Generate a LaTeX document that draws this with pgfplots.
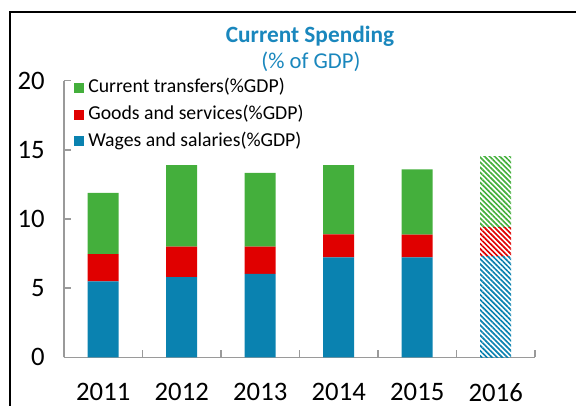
\documentclass[border=0pt]{standalone}
\usepackage{fontspec}
\setmainfont{Carlito}
\usepackage{pgfplots}
\usepackage{pgfplotstable}
\pgfplotsset{compat=1.18}
\usetikzlibrary{patterns.meta}
\definecolor{wagblue}{HTML}{0A82B0}
\definecolor{goodred}{HTML}{E00000}
\definecolor{transgreen}{HTML}{44AF3C}
\definecolor{titleblue}{HTML}{1A87BD}
\definecolor{axgray}{HTML}{9A9A9A}

% actuals 2011-2015 (2016 left at zero)
\pgfplotstableread{
x wag goo tra
0 5.50 1.96 4.44
1 5.80 2.20 5.90
2 6.04 1.96 5.33
3 7.22 1.68 5.00
4 7.22 1.66 4.72
5 0 0 0
}\actual
% projection 2016
\pgfplotstableread{
x wag goo tra
0 0 0 0
1 0 0 0
2 0 0 0
3 0 0 0
4 0 0 0
5 7.29 2.10 5.11
}\proj

\begin{document}
\begin{tikzpicture}
\path[use as bounding box] (0,0) rectangle (432pt,-303.75pt);
\draw[line width=1.5pt] (7.5pt,-310pt) -- (7.5pt,-9pt) -- (440pt,-9pt);
\node[anchor=base, font=\fontsize{17.5}{20}\selectfont\bfseries, text=titleblue] at (232.5pt,-31.5pt) {Current Spending};
\node[anchor=base, font=\fontsize{17}{19}\selectfont, text=titleblue] at (233.25pt,-51pt) {(\% of GDP)};
\begin{axis}[
  at={(48pt,-268pt)}, anchor=south west,
  scale only axis, width=353.25pt, height=207.45pt,
  ybar stacked, bar width=23.25pt,
  xmin=-0.5, xmax=5.5, ymin=0, ymax=20,
  xtick={0,...,5}, xticklabels={2011,2012,2013,2014,2015,2016},
  major x tick style={draw=none},
  minor xtick={-0.5,0.5,...,5.5},
  ytick={0,5,...,20},
  axis x line*=bottom, axis y line*=left,
  axis line style={axgray, line width=1.1pt},
  every tick/.style={axgray, line width=1.1pt},
  major tick length=5.25pt, minor tick length=5.25pt,
  tick align=inside,
  /pgf/number format/assume math mode=true,
  tick label style={font=\fontsize{20}{23}\selectfont},
  yticklabel style={xshift=-11pt},
  xticklabel style={inner sep=0pt, yshift=-19.3pt},
  legend style={at={(0.02,1.0)}, anchor=north west, draw=none, fill=none,
    inner sep=0pt, row sep=2.2pt, column sep=1.5pt, yshift=3.75pt,
    font=\fontsize{14.8}{17}\selectfont,
    nodes={text height=10.5pt, text depth=3.3pt, inner sep=2pt}},
  legend cell align=left,
  reverse legend,
  legend image code/.code={\fill[#1] (0pt,-3.75pt) rectangle (7.5pt,3.75pt);},
]
\addplot[fill=wagblue, draw=none] table[x=x, y=wag] {\actual};
\addlegendentry{Wages and salaries(\%GDP)}
\addplot[fill=goodred, draw=none] table[x=x, y=goo] {\actual};
\addlegendentry{Goods and services(\%GDP)}
\addplot[fill=transgreen, draw=none] table[x=x, y=tra] {\actual};
\addlegendentry{Current transfers(\%GDP)}
\addplot[forget plot, draw=none, pattern={Lines[angle=-45, distance=2.7pt, line width=1.25pt]}, pattern color=wagblue] table[x=x, y=wag] {\proj};
\addplot[forget plot, draw=none, pattern={Lines[angle=-45, distance=2.7pt, line width=1.25pt]}, pattern color=goodred] table[x=x, y=goo] {\proj};
\addplot[forget plot, draw=none, pattern={Lines[angle=-45, distance=2.7pt, line width=1.25pt]}, pattern color=transgreen] table[x=x, y=tra] {\proj};
\end{axis}
\end{tikzpicture}
\end{document}
